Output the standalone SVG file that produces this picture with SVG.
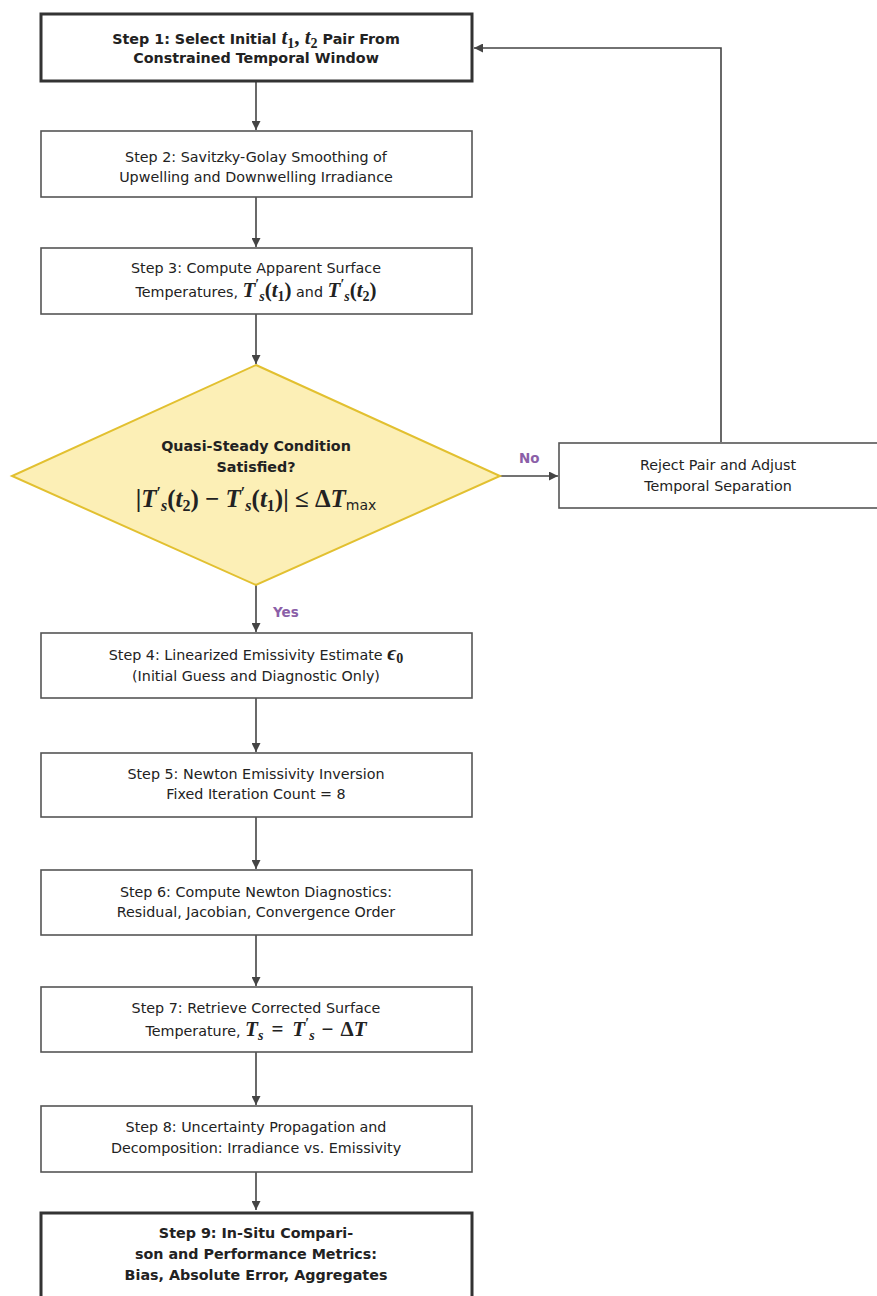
<svg xmlns="http://www.w3.org/2000/svg" width="877" height="1296" viewBox="0 0 877 1296">
<defs>
<marker id="ah" viewBox="0 0 10 10" refX="10" refY="5" markerWidth="9" markerHeight="9" markerUnits="userSpaceOnUse" orient="auto">
<path d="M0,0 L10,5 L0,10 z" fill="#444"/>
</marker>
<style>
.box{fill:#fff;stroke:#555;stroke-width:1.6}
.tbox{fill:#fff;stroke:#333;stroke-width:3}
.t{font-family:"DejaVu Sans","Liberation Sans",sans-serif;font-size:14.3px;fill:#222;text-anchor:middle}
.b{font-weight:bold}
.m{font-family:"Liberation Serif",serif;font-style:italic;font-weight:bold;font-size:21px}
.mr{font-family:"Liberation Serif",serif;font-weight:bold;font-size:21px}
.s{font-size:14px}
.big .m,.big .mr{font-size:25px}
.big .s{font-size:16px}
.c{fill:none;stroke:#444;stroke-width:1.6}
.lbl{font-family:"DejaVu Sans","Liberation Sans",sans-serif;font-size:13.5px;font-weight:bold;fill:#8b5fa8}
</style>
</defs>
<g id="connectors">
<line class="c" x1="256" y1="82" x2="256" y2="130" marker-end="url(#ah)"/>
<line class="c" x1="256" y1="197" x2="256" y2="247" marker-end="url(#ah)"/>
<line class="c" x1="256" y1="314" x2="256" y2="364" marker-end="url(#ah)"/>
<line class="c" x1="500" y1="476" x2="558" y2="476" marker-end="url(#ah)"/>
<polyline class="c" points="721,442 721,48 474,48" marker-end="url(#ah)"/>
<line class="c" x1="256" y1="585" x2="256" y2="632" marker-end="url(#ah)"/>
<line class="c" x1="256" y1="698" x2="256" y2="752" marker-end="url(#ah)"/>
<line class="c" x1="256" y1="817" x2="256" y2="869" marker-end="url(#ah)"/>
<line class="c" x1="256" y1="935" x2="256" y2="986" marker-end="url(#ah)"/>
<line class="c" x1="256" y1="1052" x2="256" y2="1105" marker-end="url(#ah)"/>
<line class="c" x1="256" y1="1172" x2="256" y2="1210" marker-end="url(#ah)"/>
<text class="lbl" x="519" y="463">No</text>
<text class="lbl" x="273" y="617">Yes</text>
</g>
<g id="step1">
<rect class="tbox" x="41" y="14" width="431" height="67"/>
<text class="t b" x="256" y="44">Step 1: Select Initial <tspan class="m" font-size="23">t</tspan><tspan class="mr s" dy="4">1</tspan><tspan class="mr" font-size="23" dy="-4">, </tspan><tspan class="m" font-size="23">t</tspan><tspan class="mr s" dy="4">2</tspan><tspan dy="-4"> Pair From</tspan></text>
<text class="t b" x="256" y="63">Constrained Temporal Window</text>
</g>
<g id="step2">
<rect class="box" x="41" y="131" width="431" height="66"/>
<text class="t" x="256" y="162">Step 2: Savitzky-Golay Smoothing of</text>
<text class="t" x="256" y="182">Upwelling and Downwelling Irradiance</text>
</g>
<g id="step3">
<rect class="box" x="41" y="248" width="431" height="66"/>
<text class="t" x="256" y="273">Step 3: Compute Apparent Surface</text>
<text class="t" x="256" y="297">Temperatures, <tspan class="m">T</tspan><tspan class="mr s" dy="-8">′</tspan><tspan class="m s" dy="12">s</tspan><tspan class="mr" dy="-4">(</tspan><tspan class="m">t</tspan><tspan class="mr s" dy="4">1</tspan><tspan class="mr" dy="-4">)</tspan> and <tspan class="m">T</tspan><tspan class="mr s" dy="-8">′</tspan><tspan class="m s" dy="12">s</tspan><tspan class="mr" dy="-4">(</tspan><tspan class="m">t</tspan><tspan class="mr s" dy="4">2</tspan><tspan class="mr" dy="-4">)</tspan></text>
</g>
<g id="decision">
<polygon points="256,365 500,476 256,585 12,476" fill="#fcefb6" stroke="#e2c030" stroke-width="2"/>
<text class="t b" x="256" y="451">Quasi-Steady Condition</text>
<text class="t b" x="256" y="472">Satisfied?</text>
<text class="t big" x="256" y="507"><tspan class="mr">|</tspan><tspan class="m">T</tspan><tspan class="mr s" dy="-9">′</tspan><tspan class="m s" dy="13">s</tspan><tspan class="mr" dy="-4">(</tspan><tspan class="m">t</tspan><tspan class="mr s" dy="4">2</tspan><tspan class="mr" dy="-4">) − </tspan><tspan class="m">T</tspan><tspan class="mr s" dy="-9">′</tspan><tspan class="m s" dy="13">s</tspan><tspan class="mr" dy="-4">(</tspan><tspan class="m">t</tspan><tspan class="mr s" dy="4">1</tspan><tspan class="mr" dy="-4">)| ≤ Δ</tspan><tspan class="m">T</tspan><tspan font-size="14" dy="3">max</tspan></text>
</g>
<g id="reject">
<rect class="box" x="559" y="443" width="322" height="65"/>
<text class="t" x="718" y="470">Reject Pair and Adjust</text>
<text class="t" x="718" y="491">Temporal Separation</text>
</g>
<g id="step4">
<rect class="box" x="41" y="633" width="431" height="65"/>
<text class="t" x="256" y="660">Step 4: Linearized Emissivity Estimate <tspan class="m" font-size="18">ϵ</tspan><tspan class="mr s" dy="3">0</tspan></text>
<text class="t" x="256" y="681">(Initial Guess and Diagnostic Only)</text>
</g>
<g id="step5">
<rect class="box" x="41" y="753" width="431" height="64"/>
<text class="t" x="256" y="779">Step 5: Newton Emissivity Inversion</text>
<text class="t" x="256" y="799">Fixed Iteration Count = 8</text>
</g>
<g id="step6">
<rect class="box" x="41" y="870" width="431" height="65"/>
<text class="t" x="256" y="897">Step 6: Compute Newton Diagnostics:</text>
<text class="t" x="256" y="917">Residual, Jacobian, Convergence Order</text>
</g>
<g id="step7">
<rect class="box" x="41" y="987" width="431" height="65"/>
<text class="t" x="256" y="1013">Step 7: Retrieve Corrected Surface</text>
<text class="t" x="256" y="1036">Temperature, <tspan class="m">T</tspan><tspan class="m s" dy="4">s</tspan><tspan class="mr" dy="-4" dx="8">=</tspan><tspan class="m" dx="9">T</tspan><tspan class="mr s" dy="-8">′</tspan><tspan class="m s" dy="12">s</tspan><tspan class="mr" dy="-4" dx="7">−</tspan><tspan class="mr" dx="7">Δ</tspan><tspan class="m">T</tspan></text>
</g>
<g id="step8">
<rect class="box" x="41" y="1106" width="431" height="66"/>
<text class="t" x="256" y="1132">Step 8: Uncertainty Propagation and</text>
<text class="t" x="256" y="1153">Decomposition: Irradiance vs. Emissivity</text>
</g>
<g id="step9">
<rect class="tbox" x="41" y="1213" width="431" height="90"/>
<text class="t b" x="256" y="1238">Step 9: In-Situ Compari-</text>
<text class="t b" x="256" y="1259">son and Performance Metrics:</text>
<text class="t b" x="256" y="1280">Bias, Absolute Error, Aggregates</text>
</g>
</svg>
